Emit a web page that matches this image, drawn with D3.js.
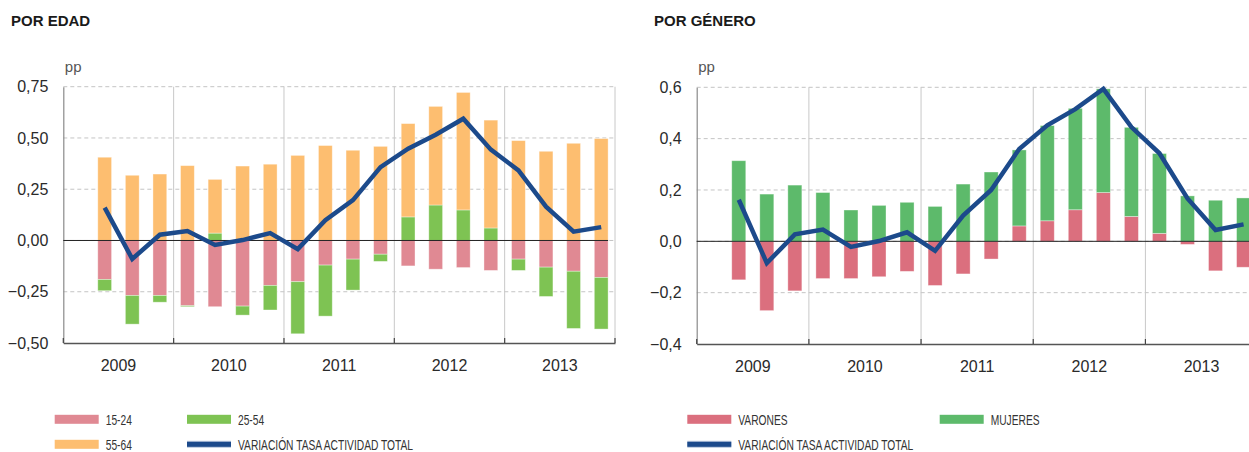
<!DOCTYPE html>
<html>
<head>
<meta charset="utf-8">
<script src="https://cdn.jsdelivr.net/npm/d3@7"></script>
<style>
  html, body { margin: 0; padding: 0; background: #fff; }
  svg { display: block; font-family: "Liberation Sans", Arial, sans-serif; }
</style>
</head>
<body>
<svg id="chart" width="1249" height="452"></svg>
<script>
// ---- DATA ----
const years = ["2009", "2010", "2011", "2012", "2013"];
const quarters = ["I", "II", "III", "IV"];
// observed quarters: 2009 Q2 .. 2013 Q4
const periods = ["2009-II","2009-III","2009-IV","2010-I","2010-II","2010-III","2010-IV",
  "2011-I","2011-II","2011-III","2011-IV","2012-I","2012-II","2012-III","2012-IV",
  "2013-I","2013-II","2013-III","2013-IV"];

// Por edad
const age1524 = [-0.190,-0.268,-0.268,-0.318,-0.323,-0.320,-0.219,-0.201,-0.120,-0.091,-0.067,-0.124,-0.140,-0.132,-0.146,-0.091,-0.130,-0.150,-0.180];
const age2554 = [-0.055,-0.140,-0.033,-0.005,0.036,-0.044,-0.120,-0.254,-0.249,-0.151,-0.035,0.115,0.173,0.149,0.061,-0.055,-0.143,-0.279,-0.252];
const age5564 = [0.406,0.318,0.324,0.365,0.262,0.363,0.372,0.415,0.463,0.440,0.459,0.455,0.481,0.573,0.526,0.487,0.435,0.474,0.497];

// Por género
const varones = [-0.150,-0.270,-0.193,-0.145,-0.145,-0.138,-0.117,-0.172,-0.127,-0.069,0.060,0.080,0.123,0.190,0.097,0.031,-0.012,-0.115,-0.101];
const mujeres = [0.314,0.184,0.219,0.190,0.122,0.140,0.152,0.136,0.223,0.270,0.296,0.371,0.395,0.404,0.347,0.311,0.177,0.160,0.169];

// Variación tasa actividad total
const totalEdad = [0.160,-0.090,0.028,0.046,-0.022,0.002,0.036,-0.042,0.099,0.197,0.358,0.448,0.516,0.594,0.443,0.342,0.165,0.043,0.065];
const totalGenero = [0.162,-0.085,0.027,0.046,-0.022,0.001,0.035,-0.037,0.100,0.200,0.360,0.452,0.515,0.594,0.445,0.343,0.167,0.044,0.066];

const ticksEdad = [-0.5,-0.25,0,0.25,0.5,0.75];
const ticksGenero = [-0.4,-0.2,0,0.2,0.4,0.6];

// ---- DRAWING ----
const svg = d3.select("#chart");
const allQuarters = [];
years.forEach(y => quarters.forEach(q => allQuarters.push(y + "-" + q)));
const esLocale = d3.formatLocale({decimal: ",", thousands: ".", grouping: [3], currency: ["", "€"]});
const CONDENSE = 0.66;

function panel(opts) {
  const g = svg.append("g");
  const x = d3.scaleBand().domain(allQuarters).range([opts.x0, opts.x1]).paddingInner(0.5).paddingOuter(0.25);
  const xy = d3.scaleBand().domain(years).range([opts.x0, opts.x1]);
  const y = d3.scaleLinear().domain(opts.domain).range([opts.y1, opts.y0]);

  // title
  g.append("text").attr("x", opts.titleX).attr("y", 26)
    .attr("font-size", 15).attr("font-weight", "bold").attr("fill", "#1a1a1a")
    .text(opts.title);
  g.append("text").attr("x", opts.x0 + 1.5).attr("y", 72)
    .attr("font-size", 15).attr("fill", "#555").text("pp");

  // horizontal grid (dashed)
  g.append("g").selectAll("line").data(opts.ticks.filter(t => t !== opts.domain[0]))
    .join("line")
    .attr("x1", opts.x0).attr("x2", opts.x1)
    .attr("y1", d => y(d)).attr("y2", d => y(d))
    .attr("stroke", "#c4c4c4").attr("stroke-width", 1).attr("stroke-dasharray", "4,3");

  // vertical year dividers
  const dividers = years.slice(1).map(yr => xy(yr)).concat([opts.x1]);
  g.append("g").selectAll("line").data(dividers).join("line")
    .attr("x1", d => d).attr("x2", d => d)
    .attr("y1", y(opts.domain[1])).attr("y2", y(opts.domain[0]))
    .attr("stroke", "#c8c8c8").attr("stroke-width", 1);

  // y axis
  const fmt = esLocale.format(opts.fmt);
  const yAxis = d3.axisLeft(y).tickValues(opts.ticks).tickSize(0).tickPadding(15)
    .tickFormat(d => fmt(d));
  const ya = g.append("g").attr("transform", `translate(${opts.x0},0)`).call(yAxis);
  ya.select(".domain").attr("stroke", "#8a8a8a").attr("stroke-width", 1.2);
  ya.selectAll("text").attr("font-size", 16).attr("fill", "#2a2a2a")
    .attr("font-family", "Liberation Sans, Arial, sans-serif");

  // bars
  const rows = periods.map((p, i) => {
    const r = {period: p};
    opts.series.forEach(s => r[s.key] = s.values[i]);
    return r;
  });
  const stack = d3.stack().keys(opts.series.map(s => s.key)).offset(d3.stackOffsetDiverging);
  const stacked = stack(rows);
  const colorOf = {};
  opts.series.forEach(s => colorOf[s.key] = s.color);
  g.append("g").selectAll("g").data(stacked).join("g")
    .attr("fill", d => colorOf[d.key])
    .selectAll("rect").data(d => d).join("rect")
    .attr("x", d => x(d.data.period))
    .attr("width", x.bandwidth())
    .attr("y", d => y(Math.max(d[0], d[1])))
    .attr("height", d => Math.abs(y(d[0]) - y(d[1])))
    .attr("stroke", "#ffffff").attr("stroke-opacity", 0.45).attr("stroke-width", 0.8);

  // zero line
  g.append("line").attr("x1", opts.x0).attr("x2", x(periods[periods.length - 1]) + x.bandwidth())
    .attr("y1", y(0)).attr("y2", y(0)).attr("stroke", "#222").attr("stroke-width", 1);

  // bottom axis
  const xAxis = d3.axisBottom(xy).tickSize(0).tickPadding(17);
  const xa = g.append("g").attr("transform", `translate(0,${y(opts.domain[0])})`).call(xAxis);
  xa.select(".domain").attr("stroke", "#555").attr("stroke-width", 1.6);
  xa.selectAll("text").attr("font-size", 16).attr("fill", "#2a2a2a")
    .attr("font-family", "Liberation Sans, Arial, sans-serif");
  g.append("g").selectAll("line").data([opts.x0].concat(dividers)).join("line")
    .attr("x1", d => d).attr("x2", d => d)
    .attr("y1", y(opts.domain[0]) - 5).attr("y2", y(opts.domain[0]))
    .attr("stroke", "#444").attr("stroke-width", 1.2);

  // total line
  const line = d3.line().x((d, i) => x(periods[i]) + x.bandwidth() / 2).y(d => y(d));
  g.append("path").datum(opts.total).attr("d", line)
    .attr("fill", "none").attr("stroke", "#1c4a8b").attr("stroke-width", 4.5)
    .attr("stroke-linejoin", "miter");

  // legend
  const lg = g.append("g");
  opts.legend.forEach(it => {
    if (it.type === "line") {
      lg.append("rect").attr("x", it.x).attr("y", it.y - 3.5).attr("width", 44).attr("height", 7)
        .attr("fill", "#b9c6dc");
      lg.append("rect").attr("x", it.x).attr("y", it.y - 2.5).attr("width", 44).attr("height", 5)
        .attr("fill", "#1c4a8b");
    } else {
      lg.append("rect").attr("x", it.x).attr("y", it.y - 4.5).attr("width", 44).attr("height", 9)
        .attr("fill", it.color);
    }
    const tx = it.x + 51;
    lg.append("text").attr("x", 0).attr("y", 0)
      .attr("transform", `translate(${tx},${it.y + 5.5}) scale(${CONDENSE},1)`)
      .attr("font-size", 15.5).attr("fill", "#333")
      .text(it.label);
  });
}

panel({
  title: "POR EDAD", titleX: 11,
  x0: 63.3, x1: 615, y0: 86.7, y1: 343,
  domain: [-0.5, 0.75], ticks: ticksEdad, fmt: ".2f",
  series: [
    {key: "15-24", values: age1524, color: "#e08993"},
    {key: "25-54", values: age2554, color: "#7ec353"},
    {key: "55-64", values: age5564, color: "#fdbe70"}
  ],
  total: totalEdad,
  legend: [
    {label: "15-24", color: "#e08993", x: 54.7, y: 419.3},
    {label: "25-54", color: "#7ec353", x: 187, y: 419.3},
    {label: "55-64", color: "#fdbe70", x: 54.7, y: 444.3},
    {label: "VARIACIÓN TASA ACTIVIDAD TOTAL", type: "line", x: 187, y: 444.3}
  ]
});

panel({
  title: "POR GÉNERO", titleX: 654,
  x0: 696.7, x1: 1257.6, y0: 87.3, y1: 344,
  domain: [-0.4, 0.6], ticks: ticksGenero, fmt: ".1f",
  series: [
    {key: "VARONES", values: varones, color: "#db6f7e"},
    {key: "MUJERES", values: mujeres, color: "#5dba6b"}
  ],
  total: totalGenero,
  legend: [
    {label: "VARONES", color: "#db6f7e", x: 687.3, y: 419.3},
    {label: "MUJERES", color: "#5dba6b", x: 939.7, y: 419.3},
    {label: "VARIACIÓN TASA ACTIVIDAD TOTAL", type: "line", x: 687.3, y: 444.3}
  ]
});
</script>
</body>
</html>
